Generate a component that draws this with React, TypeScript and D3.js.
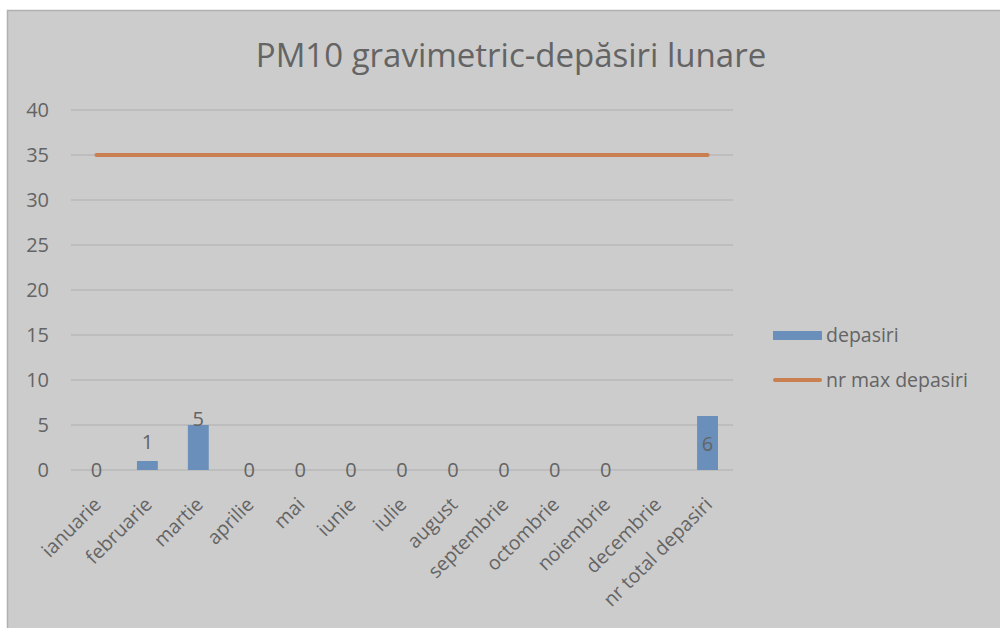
import React from 'react';
import * as d3 from 'd3';

const categories = ['ianuarie', 'februarie', 'martie', 'aprilie', 'mai', 'iunie', 'iulie', 'august', 'septembrie', 'octombrie', 'noiembrie', 'decembrie', 'nr total depasiri'];
const depasiri: (number | null)[] = [0, 1, 5, 0, 0, 0, 0, 0, 0, 0, 0, null, 6];
const nrMaxDepasiri = [35, 35, 35, 35, 35, 35, 35, 35, 35, 35, 35, 35, 35];
const yTicks = [0, 5, 10, 15, 20, 25, 30, 35, 40];
const title = 'PM10 gravimetric-depăsiri lunare';
const seriesNames = ['depasiri', 'nr max depasiri'];

const W = 1000;
const H = 628;
const FONT = 'Open Sans, Noto Sans, sans-serif';
const TEXT = '#646464';
const BAR = '#6a8fba';
const LINE = '#c97f4f';
const GRID = '#b9b9b9';

const App = () => {
    const plot = {left: 71, right: 733, top: 110, bottom: 470};

    const x = d3.scaleBand<string>()
        .domain(categories)
        .range([plot.left, plot.right])
        .paddingInner(0.59)
        .paddingOuter(0.295);
    const y = d3.scaleLinear().domain([0, 40]).range([plot.bottom, plot.top]);

    const cx = (c: string) => (x(c) as number) + x.bandwidth() / 2;

    const line = d3.line<number>()
        .x((_, i) => cx(categories[i]))
        .y(d => y(d));

    // label placement mimics excel best fit (zeros sit on the axis, total goes inside)
    const labelY = (v: number, i: number) => {
        if (v === 0) return y(0);
        if (categories[i] === 'nr total depasiri') return y(v / 2) + 1;
        if (categories[i] === 'martie') return y(v) - 6;
        return y(v) - 19;
    };

    return (
        <div style={{position: 'absolute', left: 0, top: 0}}>
            <svg width={W} height={H} style={{display: 'block'}}>
                <rect x={0} y={0} width={W} height={H} fill="#ffffff" />
                <rect x={7.5} y={10.5} width={W} height={H} fill="#cccccc" stroke="#b0b0b0" strokeWidth={1.5} />

                <text x={511} y={67} textAnchor="middle" fontFamily={FONT} fontSize={33} fill={TEXT}>{title}</text>

                {yTicks.map(t => (
                    <g key={t}>
                        <line x1={plot.left} x2={plot.right} y1={y(t)} y2={y(t)} stroke={GRID} strokeWidth={1.3} />
                        <text x={49} y={y(t)} dy="0.35em" textAnchor="end" fontFamily={FONT} fontSize={20} fill={TEXT}>{t}</text>
                    </g>
                ))}

                {depasiri.map((v, i) => v == null || v === 0 ? null : (
                    <rect key={i} x={x(categories[i])} y={y(v)} width={x.bandwidth()} height={y(0) - y(v)} fill={BAR} />
                ))}

                <path d={line(nrMaxDepasiri) as string} fill="none" stroke={LINE} strokeWidth={4} strokeLinecap="round" />

                {depasiri.map((v, i) => v == null ? null : (
                    <text key={i} x={cx(categories[i])} y={labelY(v, i)} dy="0.35em" textAnchor="middle"
                          fontFamily={FONT} fontSize={20} fill={TEXT}>{v}</text>
                ))}

                {categories.map(c => (
                    <text key={c} transform={`translate(${cx(c) + 1},${plot.bottom + 31}) rotate(-45)`}
                          textAnchor="end" dy="0.35em" fontFamily={FONT} fontSize={19.5} fill={TEXT}>{c}</text>
                ))}

                <rect x={773} y={331} width={49} height={9} fill={BAR} />
                <text x={826} y={335.5} dy="0.35em" fontFamily={FONT} fontSize={19.5} fill={TEXT}>{seriesNames[0]}</text>
                <line x1={775} x2={820} y1={380} y2={380} stroke={LINE} strokeWidth={4} strokeLinecap="round" />
                <text x={826} y={380.5} dy="0.35em" fontFamily={FONT} fontSize={19.5} fill={TEXT}>{seriesNames[1]}</text>
            </svg>
        </div>
    );
};

export default App;
